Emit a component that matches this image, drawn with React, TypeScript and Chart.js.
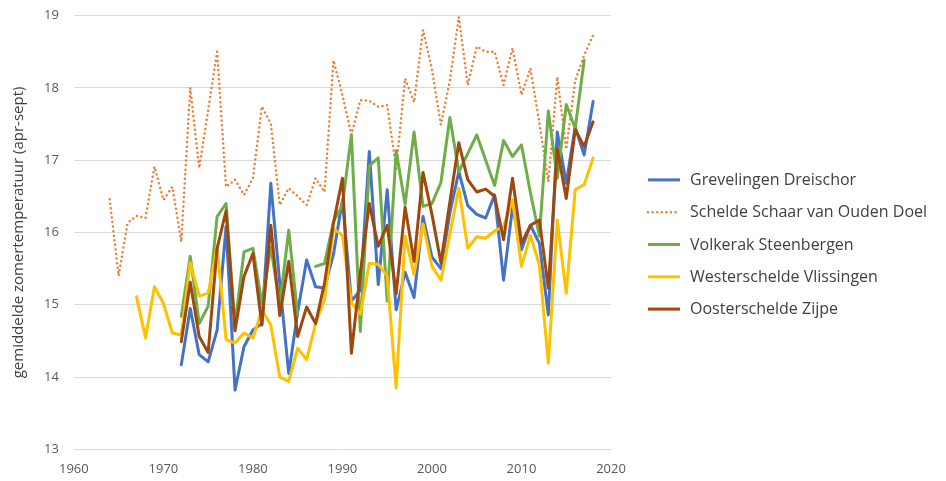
import { useEffect, useRef } from "react";
import { Chart, registerables } from "chart.js";
import type { Plugin } from "chart.js";

Chart.register(...registerables);

// Summer (Apr–Sep) mean water temperature per station, °C
const years = [
  1964, 1965, 1966, 1967, 1968, 1969, 1970, 1971, 1972, 1973,
  1974, 1975, 1976, 1977, 1978, 1979, 1980, 1981, 1982, 1983,
  1984, 1985, 1986, 1987, 1988, 1989, 1990, 1991, 1992, 1993,
  1994, 1995, 1996, 1997, 1998, 1999, 2000, 2001, 2002, 2003,
  2004, 2005, 2006, 2007, 2008, 2009, 2010, 2011, 2012, 2013,
  2014, 2015, 2016, 2017, 2018,
];

const grevelingen = [
  null, null, null, null, null, null, null, null,
  14.17, 14.95, 14.31, 14.21, 14.65, 16.08, 13.82, 14.42, 14.65, 14.74,
  16.68, 15.3, 14.05, 14.9, 15.62, 15.25, 15.23, 15.7, 16.45, 15.05,
  15.2, 17.12, 15.28, 16.59, 14.93, 15.45, 15.1, 16.22, 15.66, 15.5,
  16.27, 16.84, 16.37, 16.25, 16.2, 16.52, 15.34, 16.35, 15.76, 16.1,
  15.85, 14.86, 17.39, 16.68, 17.46, 17.07, 17.81,
];

const schelde = [
  16.46, 15.4, 16.13, 16.23, 16.2, 16.91, 16.45, 16.63, 15.87, 18.0,
  16.89, 17.69, 18.5, 16.63, 16.73, 16.52, 16.75, 17.74, 17.51, 16.38,
  16.61, 16.5, 16.38, 16.75, 16.56, 18.38, 17.9, 17.35, 17.83, 17.82,
  17.74, 17.76, 16.88, 18.13, 17.8, 18.8, 18.25, 17.49, 18.1, 18.98,
  18.04, 18.57, 18.5, 18.5, 18.04, 18.55, 17.9, 18.27, 17.51, 16.7,
  18.15, 17.15, 18.1, 18.45, 18.73,
];

const volkerak = [
  null, null, null, null, null, null, null, null,
  14.84, 15.67, 14.74, 14.98, 16.22, 16.4, 14.72, 15.73, 15.78, 15.02,
  15.8, 15.0, 16.03, 14.85, null, 15.53, 15.57, 16.15, 16.38, 17.35,
  14.63, 16.92, 17.03, 15.05, 17.13, 16.39, 17.39, 16.36, 16.4, 16.69,
  17.59, 16.84, 17.09, 17.35, 17.0, 16.65, 17.27, 17.05, 17.21, 16.55,
  15.95, 17.68, 16.75, 17.77, 17.44, 18.38, null,
];

const westerschelde = [
  null, null, null,
  15.11, 14.54, 15.25, 15.02, 14.61, 14.58, 15.58, 15.12, 15.16, 15.8,
  14.52, 14.47, 14.61, 14.54, 14.93, 14.72, 14.0, 13.94, 14.4, 14.24,
  14.74, 15.07, 16.05, 15.96, 15.03, 14.87, 15.57, 15.56, 15.4, 13.85,
  15.95, 15.42, 16.12, 15.53, 15.34, 15.98, 16.61, 15.78, 15.94, 15.92,
  16.02, 16.08, 16.45, 15.53, 15.96, 15.55, 14.19, 16.17, 15.16, 16.59,
  16.66, 17.03,
];

const oosterschelde = [
  null, null, null, null, null, null, null, null,
  14.49, 15.31, 14.56, 14.34, 15.78, 16.3, 14.64, 15.39, 15.71, 14.72,
  16.1, 14.85, 15.6, 14.56, 14.97, 14.74, 15.3, 16.13, 16.75, 14.33,
  15.44, 16.4, 15.81, 16.1, 15.15, 16.35, 15.6, 16.83, 16.25, 15.58,
  16.42, 17.24, 16.73, 16.56, 16.6, 16.5, 15.9, 16.75, 15.85, 16.1,
  16.17, 15.23, 17.16, 16.47, 17.42, 17.19, 17.53,
];

const seriesNames = [
  "Grevelingen Dreischor",
  "Schelde Schaar van Ouden Doel",
  "Volkerak Steenbergen",
  "Westerschelde Vlissingen",
  "Oosterschelde Zijpe",
];

const yTitle = "gemiddelde zomertemperatuur (apr-sept)";

const FONT = "'Open Sans', 'Noto Sans', sans-serif";

const points = (values: (number | null)[]) =>
  years.map((year, i) => ({ x: year, y: values[i] }));

// Legend to the right of the plot: a short line sample per series, then its name.
const sideLegend: Plugin<"line"> = {
  id: "sideLegend",
  afterDraw(chart) {
    const { ctx, chartArea } = chart;
    const x0 = chartArea.right + 37;
    const sample = 32;
    const rowGap = 32.3;
    const n = chart.data.datasets.length;
    const midY = 244.5;
    ctx.save();
    ctx.font = `16px ${FONT}`;
    ctx.textBaseline = "middle";
    ctx.textAlign = "left";
    chart.data.datasets.forEach((ds: any, i: number) => {
      const y = midY + (i - (n - 1) / 2) * rowGap;
      ctx.beginPath();
      ctx.strokeStyle = ds.borderColor;
      ctx.lineWidth = ds.borderWidth;
      ctx.lineCap = ds.borderDash ? "round" : "butt";
      ctx.setLineDash(ds.borderDash || []);
      ctx.moveTo(x0, y);
      ctx.lineTo(x0 + sample, y);
      ctx.stroke();
      ctx.setLineDash([]);
      ctx.fillStyle = "#404040";
      ctx.fillText(String(ds.label), x0 + sample + 10, y + 0.5);
    });
    ctx.restore();
  },
};

export default function App() {
  const canvasRef = useRef<HTMLCanvasElement | null>(null);

  useEffect(() => {
    if (!canvasRef.current) return;

    const solid = (label: string, values: (number | null)[], color: string, order: number) => ({
      label,
      data: points(values),
      borderColor: color,
      backgroundColor: color,
      borderWidth: 3,
      borderJoinStyle: "round" as const,
      borderCapStyle: "round" as const,
      pointRadius: 0,
      tension: 0,
      order,
    });

    const chart = new Chart(canvasRef.current, {
      type: "line",
      data: {
        datasets: [
          solid(seriesNames[0], grevelingen, "#4472C4", 5),
          {
            ...solid(seriesNames[1], schelde, "#ED7D31", 4),
            borderWidth: 2.5,
            borderDash: [0, 4.6],
            borderCapStyle: "round" as const,
          },
          solid(seriesNames[2], volkerak, "#70AD47", 3),
          solid(seriesNames[3], westerschelde, "#FFC000", 2),
          solid(seriesNames[4], oosterschelde, "#9E480E", 1),
        ],
      },
      options: {
        responsive: false,
        animation: false,
        layout: { padding: { left: 10, right: 335, top: 15.5, bottom: 0 } },
        plugins: {
          legend: { display: false },
          tooltip: { enabled: false },
        },
        scales: {
          x: {
            type: "linear",
            min: 1960,
            max: 2020,
            ticks: {
              stepSize: 10,
              padding: 4,
              color: "#595959",
              font: { family: FONT, size: 13 },
              callback: (v) => String(v),
            },
            grid: { display: false, drawTicks: true, tickLength: 8 },
            border: { display: false },
          },
          y: {
            min: 13,
            max: 19,
            ticks: {
              stepSize: 1,
              padding: 7,
              color: "#595959",
              font: { family: FONT, size: 13 },
            },
            grid: { color: "#d9d9d9", lineWidth: 1, drawTicks: true, tickLength: 8, tickColor: "rgba(0,0,0,0)" },
            border: { display: false },
            title: {
              display: true,
              text: yTitle,
              color: "#404040",
              font: { family: FONT, size: 15 },
              padding: { top: 0, bottom: 9 },
            },
          },
        },
      },
      plugins: [sideLegend],
    });

    return () => chart.destroy();
  }, []);

  return (
    <div style={{ position: "absolute", left: 0, top: 0, width: 946, height: 481, background: "#fff" }}>
      <canvas ref={canvasRef} width={946} height={481} />
    </div>
  );
}
